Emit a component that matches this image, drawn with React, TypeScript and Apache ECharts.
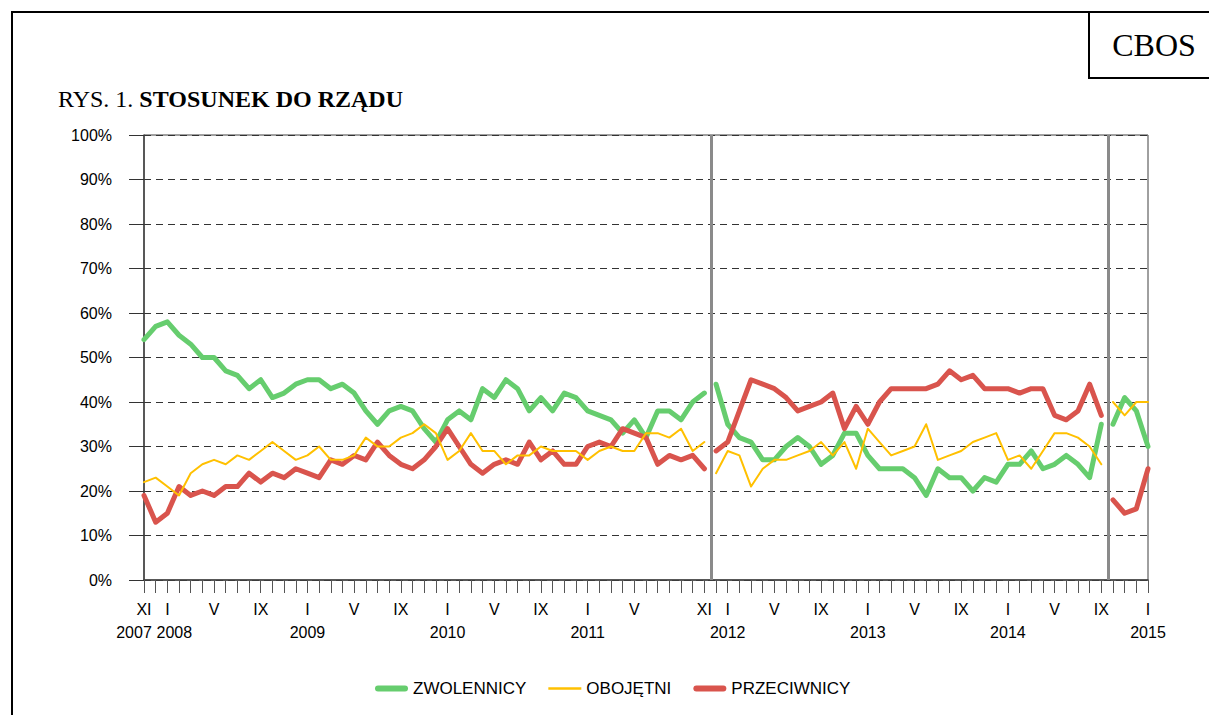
import React, { useEffect, useRef } from "react";
import * as echarts from "echarts";

// Month index 0 = XI 2007 ... 86 = I 2015
const zwolennicy = [
  54, 57, 58, 55, 53, 50, 50, 47, 46, 43, 45, 41, 42, 44, 45, 45, 43, 44,
  42, 38, 35, 38, 39, 38, 34, 31, 36, 38, 36, 43, 41, 45, 43, 38, 41,
  38, 42, 41, 38, 37, 36, 33, 36, 32, 38, 38, 36, 40, 42,
  44, 35, 32, 31, 27, 27, 30, 32, 30, 26, 28, 33, 33, 28, 25, 25, 25, 23, 19,
  25, 23, 23, 20, 23, 22, 26, 26, 29, 25, 26, 28, 26, 23, 35,
  35, 41, 38, 30,
];
const obojetni = [
  22, 23, 21, 19, 24, 26, 27, 26, 28, 27, 29, 31, 29, 27, 28, 30, 27, 27,
  28, 32, 30, 30, 32, 33, 35, 33, 27, 29, 33, 29, 29, 26, 28, 28, 30,
  29, 29, 29, 27, 29, 30, 29, 29, 33, 33, 32, 34, 29, 31,
  24, 29, 28, 21, 25, 27, 27, 28, 29, 31, 28, 31, 25, 34, 31, 28, 29, 30, 35,
  27, 28, 29, 31, 32, 33, 27, 28, 25, 29, 33, 33, 32, 30, 26,
  40, 37, 40, 40,
];
const przeciwnicy = [
  19, 13, 15, 21, 19, 20, 19, 21, 21, 24, 22, 24, 23, 25, 24, 23, 27, 26,
  28, 27, 31, 28, 26, 25, 27, 30, 34, 30, 26, 24, 26, 27, 26, 31, 27,
  29, 26, 26, 30, 31, 30, 34, 33, 32, 26, 28, 27, 28, 25,
  29, 31, 38, 45, 44, 43, 41, 38, 39, 40, 42, 34, 39, 35, 40, 43, 43, 43, 43,
  44, 47, 45, 46, 43, 43, 43, 42, 43, 43, 37, 36, 38, 44, 37,
  18, 15, 16, 25,
];
// series break after these month indices (new survey periods)
const breaksAfter = [48, 82];
const seriesNames = ["ZWOLENNICY", "OBOJĘTNI", "PRZECIWNICY"];
const monthTickLabels: Record<number, string> = {
  0: "XI", 2: "I", 6: "V", 10: "IX", 14: "I", 18: "V", 22: "IX",
  26: "I", 30: "V", 34: "IX", 38: "I", 42: "V", 48: "XI", 50: "I",
  54: "V", 58: "IX", 62: "I", 66: "V", 70: "IX", 74: "I", 78: "V",
  82: "IX", 86: "I",
};
const yearTickLabels: Record<number, string> = {
  0: "2007", 2: "2008", 14: "2009", 26: "2010", 38: "2011", 50: "2012",
  62: "2013", 74: "2014", 86: "2015",
};
const yTickValues = [0, 10, 20, 30, 40, 50, 60, 70, 80, 90, 100];

const COLORS = ["#66CD6E", "#FFC000", "#D9544D"];
const WIDTHS = [5, 2, 5];
const LEGEND_ICONS = [
  "path://M3,0H30A3,3,0,0,1,30,6H3A3,3,0,0,1,3,0Z",
  "path://M0,1.8H33V4.2H0Z",
  "path://M3,0H30A3,3,0,0,1,30,6H3A3,3,0,0,1,3,0Z",
];
const SANS = "'Liberation Sans', Arial, sans-serif";
const SERIF = "'Liberation Serif', 'Times New Roman', serif";

function buildData(values: number[]) {
  const out: any[] = [];
  values.forEach((v, i) => {
    out.push([i, v]);
    if (breaksAfter.includes(i)) out.push([i + 0.5, "-"]);
  });
  return out;
}

export default function App() {
  const ref = useRef<HTMLDivElement>(null);
  useEffect(() => {
    if (!ref.current) return;
    const chart = echarts.init(ref.current, undefined, { renderer: "svg" });
    const allValues = [zwolennicy, obojetni, przeciwnicy];
    const labelStyle = { fontFamily: SANS, fontSize: 16, lineHeight: 23, color: "#000" };
    const option: any = {
      animation: false,
      backgroundColor: "#fff",
      grid: {
        left: 144,
        right: 61,
        top: 135,
        bottom: 135,
        show: true,
        borderColor: "#404040",
        borderWidth: 1,
        backgroundColor: "transparent",
      },
      xAxis: {
        type: "value",
        min: 0,
        max: 86,
        interval: 1,
        splitLine: { show: false },
        axisLine: { show: true, lineStyle: { color: "#404040", width: 1.5 } },
        axisTick: { show: true, inside: false, length: 13, lineStyle: { color: "#555", width: 1 } },
        axisLabel: {
          show: true,
          margin: 18,
          showMinLabel: true,
          showMaxLabel: true,
          hideOverlap: false,
          color: "#000",
          fontFamily: SANS,
          fontSize: 16,
          lineHeight: 23,
          formatter: (v: number) => {
            const i = Math.round(v);
            const m = monthTickLabels[i];
            if (!m) return "";
            const y = yearTickLabels[i];
            if (!y) return `{m|${m}}`;
            const key = i === 0 ? "yL" : i === 2 ? "yR" : "y";
            return `{m|${m}}\n{${key}|${y}}`;
          },
          rich: {
            m: labelStyle,
            y: labelStyle,
            yL: { ...labelStyle, padding: [0, 20, 0, 0] },
            yR: { ...labelStyle, padding: [0, 0, 0, 14] },
          },
        },
      },
      yAxis: [
        {
          type: "value",
          min: yTickValues[0],
          max: yTickValues[yTickValues.length - 1],
          interval: 10,
          axisLine: { show: true, lineStyle: { color: "#404040", width: 1.5 } },
          axisTick: { show: true, inside: false, length: 15, lineStyle: { color: "#333" } },
          axisLabel: {
            formatter: "{value}%",
            margin: 32,
            color: "#000",
            fontFamily: SANS,
            fontSize: 16,
          },
          splitLine: {
            show: true,
            lineStyle: { color: "#333", width: 1, type: [7, 5] },
          },
        },
      ],
      legend: {
        left: 370,
        top: 675,
        itemWidth: 33,
        itemHeight: 6,
        itemGap: 22,
        symbolKeepAspect: true,
        textStyle: { fontFamily: SANS, fontSize: 17, color: "#000" },
        data: seriesNames.map((n, i) => ({
          name: n,
          icon: LEGEND_ICONS[i],
          itemStyle: { color: COLORS[i] },
        })),
      },
      series: seriesNames.map((name, i) => ({
        name,
        type: "line",
        data: buildData(allValues[i]),
        symbol: "none",
        showSymbol: false,
        connectNulls: false,
        z: i === 1 ? 4 : 3,
        lineStyle: { color: COLORS[i], width: WIDTHS[i], join: "round", cap: "round" },
        itemStyle: { color: COLORS[i] },
        markLine:
          i === 0
            ? {
                silent: true,
                symbol: ["none", "none"],
                label: { show: false },
                lineStyle: { color: "#8a8a8a", width: 3, type: "solid" },
                data: [{ xAxis: 48.6 }, { xAxis: 82.6 }],
              }
            : undefined,
      })),
      graphic: [
        {
          type: "rect",
          shape: { x: 12, y: 12, width: 1400, height: 900 },
          style: { fill: "none", stroke: "#000", lineWidth: 2 },
          silent: true,
        },
        {
          type: "polyline",
          shape: { points: [[1089, 12], [1089, 78], [1215, 78]] },
          style: { fill: "none", stroke: "#000", lineWidth: 2 },
          silent: true,
        },
        {
          type: "text",
          x: 1154,
          y: 45,
          style: {
            text: "CBOS",
            fontFamily: SERIF,
            fontSize: 32,
            fill: "#000",
            align: "center",
            verticalAlign: "middle",
          },
        },
        {
          type: "text",
          x: 58,
          y: 99,
          style: {
            text: "{a|RYS. 1. }{b|STOSUNEK DO RZĄDU}",
            fontFamily: SERIF,
            fontSize: 24,
            fill: "#000",
            verticalAlign: "middle",
            rich: {
              a: { fontFamily: SERIF, fontSize: 24, fill: "#000" },
              b: { fontFamily: SERIF, fontSize: 24, fontWeight: "bold", fill: "#000" },
            },
          },
        },
      ],
    };
    chart.setOption(option);
    return () => chart.dispose();
  }, []);
  return (
    <div
      ref={ref}
      style={{ position: "fixed", left: 0, top: 0, width: 1209, height: 715, background: "#fff" }}
    />
  );
}
